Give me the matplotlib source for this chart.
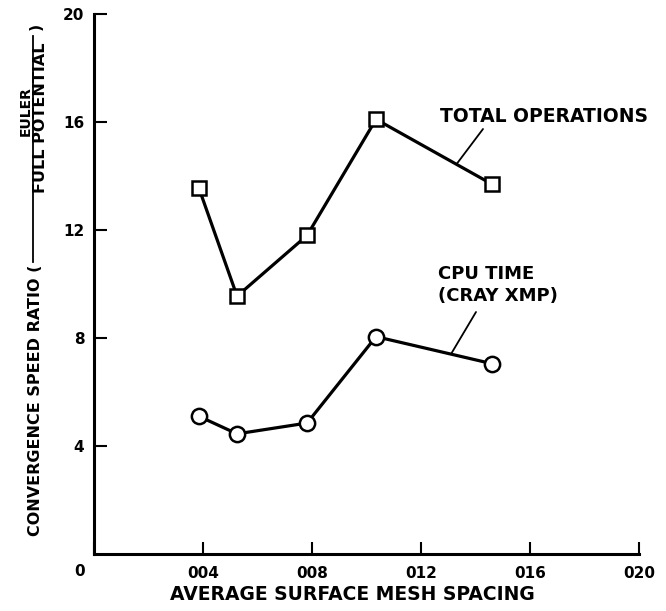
import numpy as np
import matplotlib
matplotlib.use("Agg")
import matplotlib.pyplot as plt
from matplotlib.lines import Line2D

# data
spacing = [0.00385, 0.00525, 0.00782, 0.01035, 0.0146]
total_ops = [13.55, 9.55, 11.8, 16.1, 13.7]
cpu_time = [5.1, 4.45, 4.85, 8.05, 7.05]

xticks = [0, 0.004, 0.008, 0.012, 0.016, 0.020]
xticklabels = ["", "004", "008", "012", "016", "020"]
yticks = [4, 8, 12, 16, 20]

W, H = 666, 611
plt.rcParams['font.family'] = ['DejaVu Sans']
plt.rcParams['font.weight'] = 'bold'


def px(x, y):
    # pixel position (from top-left) -> figure fraction
    return (x / W, 1 - y / H)


fig = plt.figure(figsize=(W / 100, H / 100), dpi=100)
ax = fig.add_axes([94 / W, 1 - 554 / H, (639 - 94) / W, (554 - 14) / H])

ax.plot(spacing, total_ops, color='k', lw=2.3, marker='s', ms=10.5,
        mfc='white', mec='k', mew=1.8, zorder=3)
ax.plot(spacing, cpu_time, color='k', lw=2.3, marker='o', ms=11,
        mfc='white', mec='k', mew=1.8, zorder=3)

ax.set_xlim(0, 0.020)
ax.set_ylim(0, 20)
ax.set_xticks(xticks)
ax.set_xticklabels(xticklabels)
ax.set_yticks(yticks)
ax.set_yticklabels([str(v) for v in yticks])
ax.tick_params(direction='in', length=9, width=1.5, labelsize=11, pad=9)
ax.tick_params(axis='y', pad=7)
for lab in ax.get_xticklabels() + ax.get_yticklabels():
    lab.set_fontweight('bold')
for s in ['top', 'right']:
    ax.spines[s].set_visible(False)
for s in ['left', 'bottom']:
    ax.spines[s].set_linewidth(2.2)
    ax.spines[s].set_capstyle('projecting')

# origin label sits left of the corner
fig.text(*px(80, 572), "0", fontsize=11, fontweight='bold', ha='center', va='center')

# x axis title
fig.text(*px(352, 594), "AVERAGE SURFACE MESH SPACING",
         fontsize=13.5, fontweight='bold', ha='center', va='center')

# y axis title with fraction
fig.text(*px(36, 400), "CONVERGENCE SPEED RATIO (", rotation=90, fontsize=11.5,
         fontweight='bold', ha='center', va='center')
fig.text(*px(26, 111), "EULER", rotation=90, fontsize=10,
         fontweight='bold', ha='center', va='center')
fig.text(*px(41, 118), "FULL POTENTIAL", rotation=90, fontsize=11.5,
         fontweight='bold', ha='center', va='center')
fig.add_artist(Line2D([33 / W, 33 / W], [1 - 36 / H, 1 - 262 / H], color='k', lw=1.3,
                      transform=fig.transFigure))
fig.text(*px(36, 26), ")", rotation=90, fontsize=11.5,
         fontweight='bold', ha='center', va='center')

# curve labels with leader lines
fig.text(*px(440, 116), "TOTAL OPERATIONS", fontsize=13.5, fontweight='bold',
         ha='left', va='center')
x_lead = 0.0133
ax.annotate("", xy=(x_lead, np.interp(x_lead, spacing, total_ops)),
            xytext=px(483, 129), textcoords='figure fraction',
            arrowprops=dict(arrowstyle='-', lw=1.3, color='k', shrinkA=0, shrinkB=0))

fig.text(*px(438, 274), "CPU TIME", fontsize=13, fontweight='bold',
         ha='left', va='center')
fig.text(*px(438, 296), "(CRAY XMP)", fontsize=13, fontweight='bold',
         ha='left', va='center')
x_lead2 = 0.0131
ax.annotate("", xy=(x_lead2, np.interp(x_lead2, spacing, cpu_time)),
            xytext=px(476, 312), textcoords='figure fraction',
            arrowprops=dict(arrowstyle='-', lw=1.3, color='k', shrinkA=0, shrinkB=0))

plt.savefig("out.png", dpi=100)
